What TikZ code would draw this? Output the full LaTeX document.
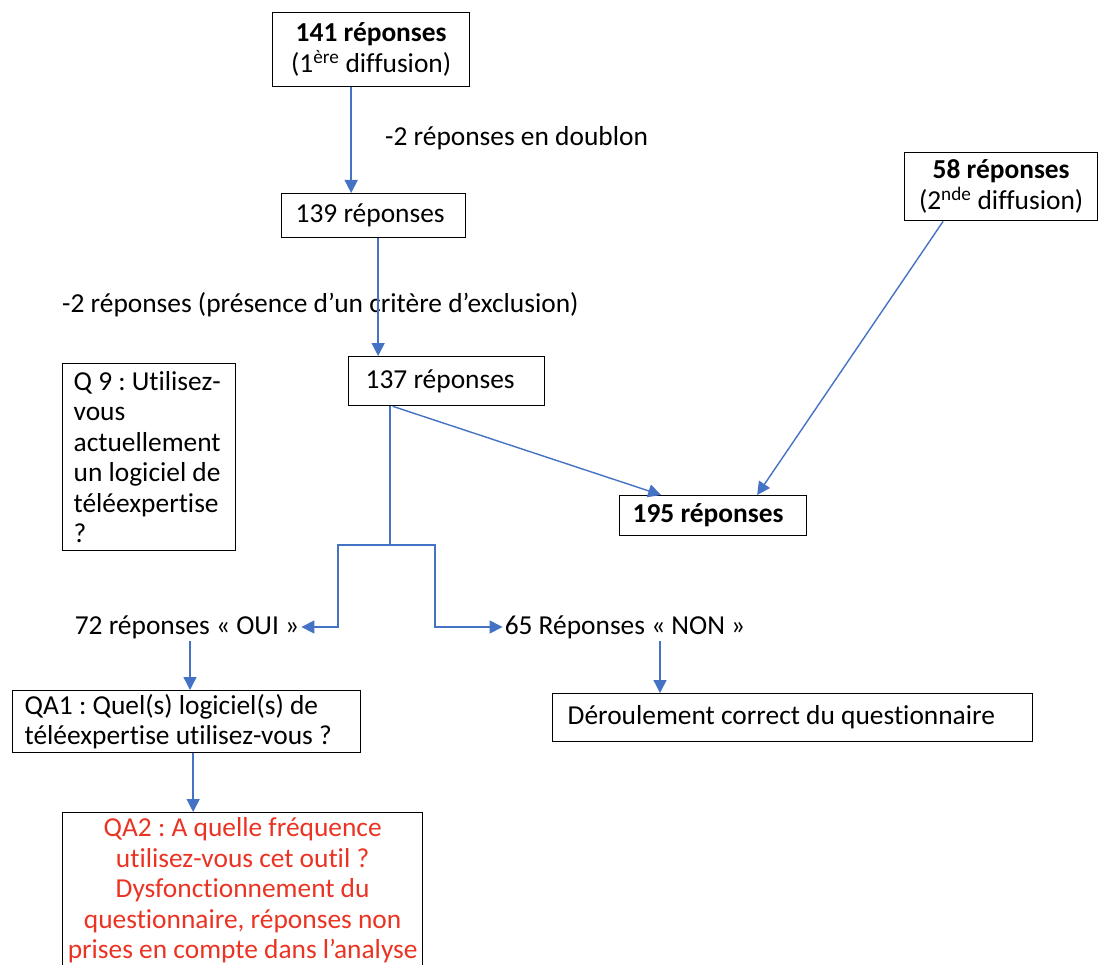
\documentclass[tikz,border=0pt]{standalone}
\usepackage{fontspec}
\setmainfont{Carlito}[Ligatures=NoCommon]
\usetikzlibrary{arrows.meta}
\definecolor{flowblue}{RGB}{68,114,196}
\definecolor{flowred}{RGB}{234,51,35}
\frenchspacing
\begin{document}
\begin{tikzpicture}[x=1pt,y=-1pt,font=\fontsize{27.4}{30.5}\selectfont]
\tikzset{box/.style = {draw, line width=1.3pt, anchor=north west, inner ysep=0pt, align=flush left},
  lbl/.style = {inner sep=2pt},
  link/.style = {draw=flowblue, line width=1.4pt},
  arr/.style = {link, -{Triangle[width=13pt,length=13pt]}}}
\useasboundingbox (0,0) rectangle (1099,965);
\clip (0,0) rectangle (1099,965);
% boxes
\node[box, align=flush center, text width=197pt, inner xsep=0pt, minimum height=74pt] (b141) at (272,12) {\textbf{141 réponses}\\(1\textsuperscript{ère} diffusion)};
\node[box, align=flush center, text width=193pt, inner xsep=0pt, minimum height=68pt] (b58) at (904,152) {\textbf{58 réponses}\\(2\textsuperscript{nde} diffusion)};
\node[box, text width=156pt, inner xsep=14pt, minimum height=44pt] (b139) at (281,193) {139 réponses};
\node[box, text width=162pt, inner xsep=17pt, minimum height=49pt] (b137) at (348,356) {137 réponses};
\node[box, text width=161pt, inner xsep=13pt, minimum height=40pt] (b195) at (619,495) {\textbf{195 réponses}};
\node[box, text width=151pt, inner xsep=11pt, minimum height=187pt] (q9) at (62,363) {Q 9 : Utilisez-\\vous\\actuellement\\un logiciel de\\téléexpertise\\?};
\node[box, text width=324pt, inner xsep=12pt, minimum height=62pt] (qa1) at (12,690) {QA1 : Quel(s) logiciel(s) de\\téléexpertise utilisez-vous ?};
\node[box, align=flush center, text width=360pt, inner xsep=0pt, minimum height=156pt, text=flowred] (qa2) at (62,812) {QA2 : A quelle fréquence\\utilisez-vous cet outil ?\\Dysfonctionnement du\\questionnaire, réponses non\\prises en compte dans l’analyse};
\node[box, text width=450pt, inner xsep=15pt, minimum height=48pt] (der) at (552,693) {Déroulement correct du questionnaire};
% labels
\node[lbl, anchor=west] (dbl) at (383,138) {-2 réponses en doublon};
\node[lbl, anchor=west] (excl) at (60,305) {-2 réponses (présence d’un critère d’exclusion)};
\node[lbl] (oui) at (187,627) {72 réponses « OUI »};
\node[lbl] (non) at (625,627) {65 Réponses « NON »};
\coordinate (fork) at (390,545);
% connectors
\draw[arr] ([xshift=-20pt]b141.south) -- ([xshift=-20pt]b141.south |- b139.north);
\draw[arr] ([xshift=4.5pt]b139.south) -- ([xshift=4.5pt]b139.south |- b137.north);
\draw[arr] ([xshift=-54pt]b137.south) -- ([xshift=-52pt]b195.north);
\draw[arr] ([xshift=-58pt]b58.south) -- ([xshift=44pt]b195.north);
\draw[link] (fork |- b137.south) -- (fork);
\draw[arr] (fork) -- ++(-52,0) |- (oui.east);
\draw[arr] (fork) -- ++(45,0) |- (non.west);
\draw[arr] ([xshift=3pt]oui.south) -- ([xshift=3pt]oui.south |- qa1.north);
\draw[arr] ([xshift=6.5pt]qa1.south) -- ([xshift=6.5pt]qa1.south |- qa2.north);
\draw[arr] ([xshift=35pt]non.south) -- ([xshift=35pt]non.south |- der.north);
\end{tikzpicture}
\end{document}
